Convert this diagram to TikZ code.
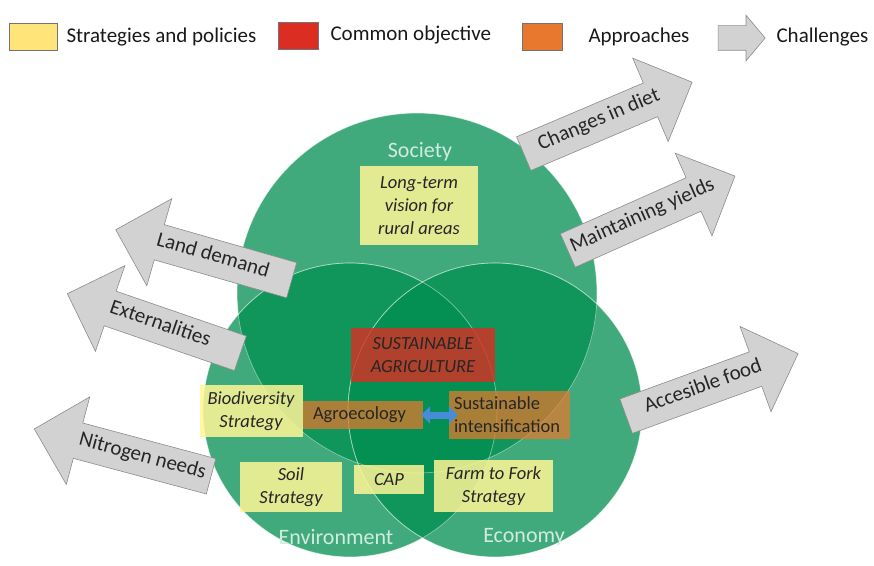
\documentclass[tikz,border=0pt]{standalone}
\usepackage{fontspec}
\setmainfont{Carlito}
\usetikzlibrary{shapes.arrows, arrows.meta}

\definecolor{circgreen}{RGB}{0,142,80}
\definecolor{stratyellow}{RGB}{255,228,122}
\definecolor{boxyellow}{RGB}{255,245,150}
\definecolor{objred}{RGB}{220,45,35}
\definecolor{apporange}{RGB}{232,120,45}
\definecolor{challgray}{RGB}{210,210,210}
\definecolor{swapblue}{RGB}{70,140,215}

\tikzset{
  sphere/.style = {fill=circgreen, fill opacity=0.75, draw=white, draw opacity=0.4, line width=0.7pt},
  spherelabel/.style = {text=white!82!circgreen, font=\fontsize{22}{24}\selectfont},
  legbox/.style = {draw=black!55, line width=0.6pt, minimum width=40pt, minimum height=27pt, inner sep=0pt},
  legtext/.style = {anchor=west, text=black!90, font=\fontsize{21}{24}\selectfont},
  strategy/.style = {fill=boxyellow, fill opacity=0.85, text opacity=1, text=black!85, align=center, inner sep=0pt, font=\fontsize{18.5}{23}\selectfont\itshape},
  approach/.style = {fill=apporange, fill opacity=0.72, text opacity=1, text=black!85, align=left, inner sep=0pt, font=\fontsize{18.5}{23}\selectfont},
  challenge/.style = {shape=single arrow, fill=challgray, draw=black!45, line width=0.6pt,
    single arrow tip angle=90, single arrow head extend=27pt, minimum height=183pt,
    text height=12pt, text depth=4pt, inner ysep=10pt, inner xsep=2pt, text=black!85, font=\fontsize{21}{23}\selectfont},
  leftward/.style = {shape border rotate=180}
}

\begin{document}
\begin{tikzpicture}[x=1pt, y=1pt]
\useasboundingbox (0,0) rectangle (874,565);

% legend
\node[legbox, fill=stratyellow, minimum width=48pt] (legstrat) at (33,528.5) {};
\node[legtext] (legstrattxt) at (63,528) {Strategies and policies};
\node[legbox, fill=objred] (legobj) at (298,529) {};
\node[legtext] (legobjtxt) at (327,530) {Common objective};
\node[legbox, fill=apporange] (legapp) at (542,528.5) {};
\node[legtext] (legapptxt) at (585,528) {Approaches};
\node[shape=single arrow, fill=challgray, draw=black!45, line width=0.6pt, minimum height=47pt,
  single arrow head extend=10.5pt, single arrow tip angle=100, inner xsep=0pt, inner ysep=12pt] (legchal) at (736.5,527) {};
\node[legtext] (legchaltxt) at (773,528) {Challenges};

% the three pillars
\fill[sphere] (417,272) circle (180);
\fill[sphere] (350,155) circle (147);
\fill[sphere] (495,155) circle (147);
\draw[sphere, fill opacity=0] (417,272) circle (180);
\draw[sphere, fill opacity=0] (350,155) circle (147);
\draw[sphere, fill opacity=0] (495,155) circle (147);

\node[spherelabel] (society) at (420,413) {Society};
\node[spherelabel] (environment) at (336,28) {Environment};
\node[spherelabel] (economy) at (524,28) {Economy};

% strategies, objective and approaches
\node[strategy, minimum width=118pt, minimum height=79pt] (longterm) at (419,359) {Long-term\\vision for\\rural areas};
\node[approach, minimum width=120pt, minimum height=28pt, text width=100pt] (agroeco) at (363,150) {Agroecology};
\node[approach, minimum width=121pt, minimum height=48pt, text width=111pt] (sustint) at (509.5,150) {Sustainable\\intensification};
\node[fill=objred, fill opacity=0.8, text opacity=1, text=black!85, align=center, inner sep=0pt,
  minimum width=144pt, minimum height=54pt, font=\fontsize{18.5}{23}\selectfont\itshape] (sustagri) at (423,210) {SUSTAINABLE\\AGRICULTURE};
\node[strategy, minimum width=103pt, minimum height=52pt] (biodiv) at (251,154) {Biodiversity\\Strategy};
\node[strategy, minimum width=102pt, minimum height=50pt] (soil) at (291,78) {Soil\\Strategy};
\node[strategy, minimum width=70pt, minimum height=29pt] (cap) at (389,85.5) {CAP};
\node[strategy, minimum width=119pt, minimum height=52pt] (farmfork) at (493.5,79) {Farm to Fork\\Strategy};

\draw[swapblue, line width=7pt, {Triangle[width=17pt,length=9pt]}-{Triangle[width=17pt,length=9pt]},
  shorten <=-2pt, shorten >=-9pt] (agroeco.east) -- (sustint.west);

% challenges
\node[challenge, rotate=23] (diet) at (599.5,443.5) {Changes in diet\hspace{26pt}};
\node[challenge, rotate=24] (yields) at (643,348) {Maintaining yields};
\node[challenge, rotate=20] (food) at (703.5,177) {Accesible food\hspace{24pt}};
\node[challenge, leftward, rotate=-16] (land) at (212.5,307.5) {Land demand};
\node[challenge, leftward, rotate=-19] (extern) at (162.5,238.5) {\hspace{-6pt}Externalities\hspace{14pt}};
\node[challenge, leftward, rotate=-15] (nitrogen) at (131.5,110) {\hspace{22pt}Nitrogen needs};
\end{tikzpicture}
\end{document}
